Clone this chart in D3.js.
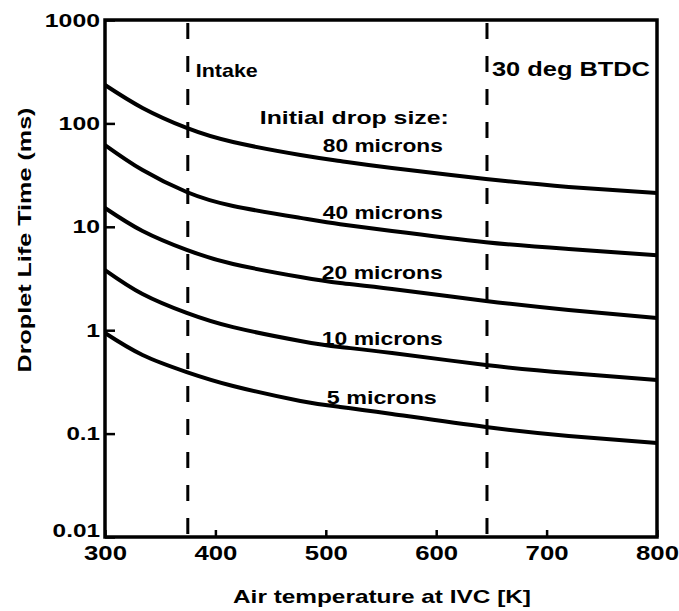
<!DOCTYPE html>
<html>
<head>
<meta charset="utf-8">
<script src="https://cdn.jsdelivr.net/npm/d3@7"></script>
<style>
  body { margin: 0; background: #fff; }
  text { font-family: "Liberation Sans", Arial, sans-serif; font-weight: bold; fill: #000; }
</style>
</head>
<body>
<div id="chart"></div>
<script>
// Values (droplet life time in ms vs air temperature at IVC in K)
var temps = [300, 334, 374, 416, 477, 513, 560, 645, 720, 800];
var life80 = [235, 141, 90.3, 66, 49.5, 43.3, 37.0, 29.0, 24.3, 21.2];
var life40 = [61.8, 35.4, 21.7, 15.9, 12.2, 10.6, 9.1, 7.1, 6.1, 5.3];
var life20 = [15.2, 9.1, 5.97, 4.37, 3.27, 2.86, 2.50, 1.92, 1.57, 1.31];
var life10 = [3.82, 2.24, 1.47, 1.07, 0.787, 0.688, 0.602, 0.461, 0.385, 0.33];
var life5 = [0.94, 0.576, 0.394, 0.289, 0.207, 0.181, 0.155, 0.116, 0.095, 0.081];
var curveNames = ["80 microns", "40 microns", "20 microns", "10 microns", "5 microns"];
var markerTemps = [375, 646];
var markerNames = ["Intake", "30 deg BTDC"];
var xTicks = [300, 400, 500, 600, 700, 800];
var yTicks = [0.01, 0.1, 1, 10, 100, 1000];

var series = [life80, life40, life20, life10, life5];

// Set the dimensions and margins of the graph
var margin = { top: 20, right: 22, bottom: 74, left: 105 },
    width = 679 - margin.left - margin.right,
    height = 611 - margin.top - margin.bottom;

var svg = d3.select("#chart")
    .append("svg")
    .attr("width", width + margin.left + margin.right)
    .attr("height", height + margin.top + margin.bottom)
    .append("g")
    .attr("transform", "translate(" + margin.left + "," + margin.top + ")");

var x = d3.scaleLinear().domain([300, 800]).range([0, width]);
var y = d3.scaleLog().domain([0.01, 1000]).range([height, 0]);

// X axis, ticks pointing inward
var xAxis = svg.append("g")
    .attr("transform", "translate(0," + height + ")")
    .call(d3.axisBottom(x).tickValues(xTicks).tickSizeInner(-7).tickSizeOuter(0).tickPadding(8));
xAxis.select(".domain").remove();
xAxis.selectAll("line").attr("stroke", "#000").attr("stroke-width", 2.5);
xAxis.selectAll("text")
    .style("font-size", "21px")
    .attr("textLength", 43)
    .attr("lengthAdjust", "spacingAndGlyphs");

// Y axis, ticks pointing inward
var yAxis = svg.append("g")
    .call(d3.axisLeft(y).tickValues(yTicks).tickFormat(function (d) { return String(d); })
        .tickSizeInner(-10).tickSizeOuter(0).tickPadding(5));
yAxis.select(".domain").remove();
yAxis.selectAll("line").attr("stroke", "#000").attr("stroke-width", 2.5);
yAxis.selectAll("text")
    .style("font-size", "19px")
    .attr("textLength", function (d) {
        var s = String(d);
        var dots = s.split(".").length - 1;
        return (s.length - dots) * 13.8 + dots * 6;
    })
    .attr("lengthAdjust", "spacingAndGlyphs")
    .attr("y", function (d) { return d === 0.01 ? -7 : 0; });

// Dashed event markers
svg.selectAll(".marker")
    .data(markerTemps)
    .enter()
    .append("line")
    .attr("x1", function (d) { return x(d); })
    .attr("x2", function (d) { return x(d); })
    .attr("y1", 0)
    .attr("y2", height)
    .attr("stroke", "#000")
    .attr("stroke-width", 3)
    .attr("stroke-dasharray", "16,17")
    .attr("stroke-dashoffset", -3);

// Curves
var line = d3.line()
    .x(function (d, i) { return x(temps[i]); })
    .y(function (d) { return y(d); })
    .curve(d3.curveNatural);

svg.selectAll(".curve")
    .data(series)
    .enter()
    .append("path")
    .attr("d", line)
    .attr("fill", "none")
    .attr("stroke", "#000")
    .attr("stroke-width", 4);

// Frame
svg.append("rect")
    .attr("x", 0)
    .attr("y", 0)
    .attr("width", width)
    .attr("height", height)
    .attr("fill", "none")
    .attr("stroke", "#000")
    .attr("stroke-width", 3.5);

// Marker labels
svg.append("text")
    .attr("x", x(markerTemps[0]) + 8)
    .attr("y", 57)
    .style("font-size", "19px")
    .attr("textLength", 62)
    .attr("lengthAdjust", "spacingAndGlyphs")
    .text(markerNames[0]);

svg.append("text")
    .attr("x", x(markerTemps[1]) + 5)
    .attr("y", 56)
    .style("font-size", "20px")
    .attr("textLength", 158)
    .attr("lengthAdjust", "spacingAndGlyphs")
    .text(markerNames[1]);

// Drop size labels, right aligned
var labelRight = x(606);
svg.append("text")
    .attr("x", labelRight + 6)
    .attr("y", 104)
    .attr("text-anchor", "end")
    .style("font-size", "19px")
    .attr("textLength", 189)
    .attr("lengthAdjust", "spacingAndGlyphs")
    .text("Initial drop size:");

var labelBase = [132, 199, 259, 325, 384];
var labelLen = [120, 120, 121, 121, 110];
svg.selectAll(".lab")
    .data(curveNames)
    .enter()
    .append("text")
    .attr("x", function (d, i) { return i === 4 ? labelRight - 6 : labelRight; })
    .attr("y", function (d, i) { return labelBase[i]; })
    .attr("text-anchor", "end")
    .style("font-size", "19px")
    .attr("textLength", function (d, i) { return labelLen[i]; })
    .attr("lengthAdjust", "spacingAndGlyphs")
    .text(function (d) { return d; });

// Axis titles
svg.append("text")
    .attr("x", width / 2 + 1)
    .attr("y", height + 66)
    .attr("text-anchor", "middle")
    .style("font-size", "19px")
    .attr("textLength", 298)
    .attr("lengthAdjust", "spacingAndGlyphs")
    .text("Air temperature at IVC [K]");

svg.append("text")
    .attr("transform", "translate(" + (-74) + "," + 220 + ") rotate(-90)")
    .attr("text-anchor", "middle")
    .style("font-size", "19px")
    .attr("textLength", 265)
    .attr("lengthAdjust", "spacingAndGlyphs")
    .text("Droplet Life Time (ms)");
</script>
</body>
</html>
